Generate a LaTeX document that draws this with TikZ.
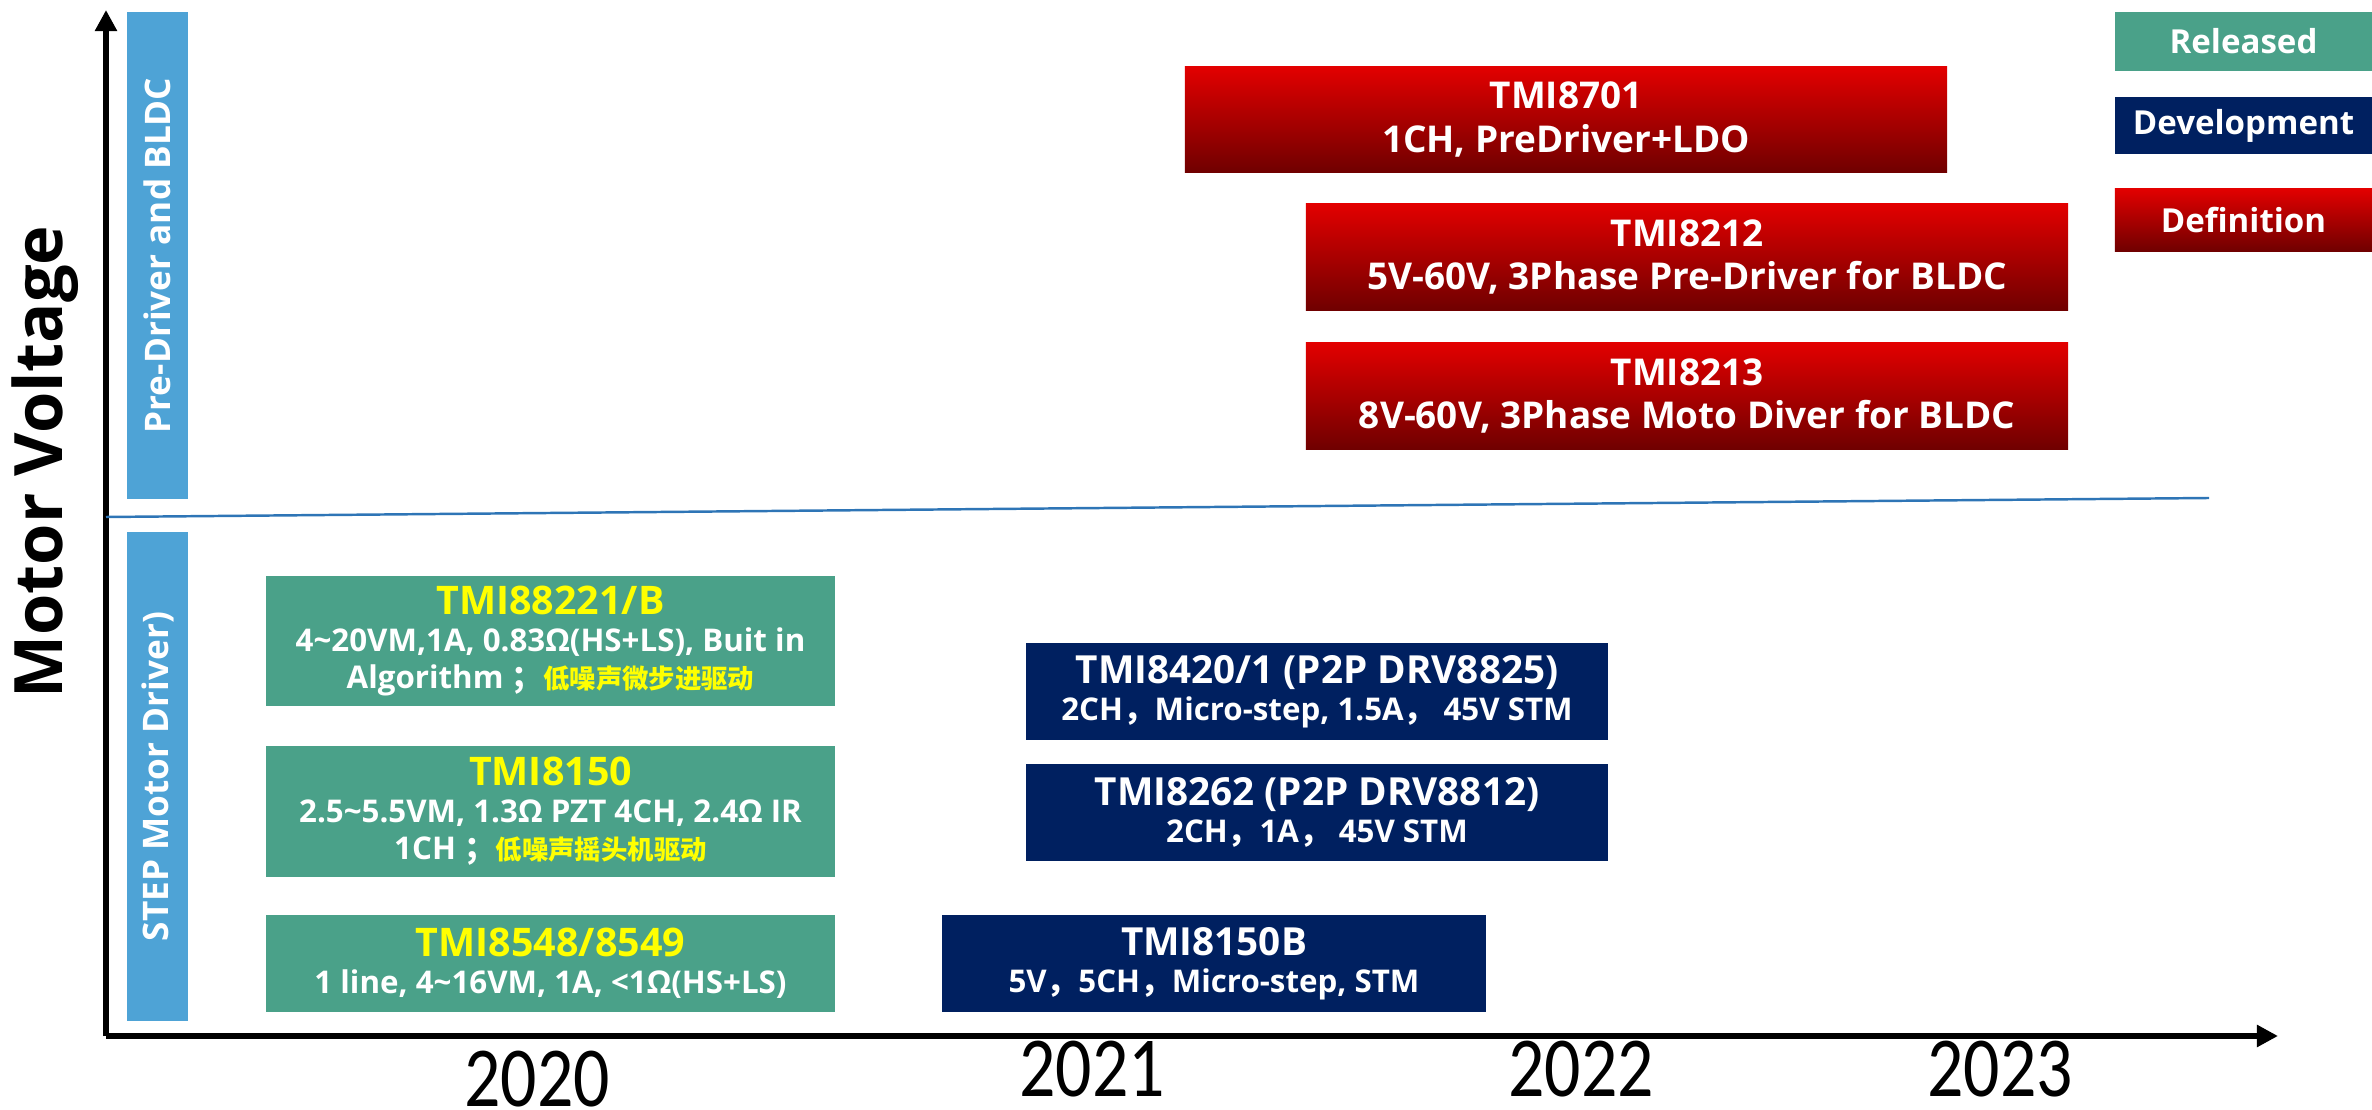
\documentclass[tikz,border=0pt]{standalone}
\usepackage{fontspec}
\usepackage{graphicx}
\setmainfont{Open Sans}
\newfontfamily\cjk{Noto Sans CJK SC}
\newfontfamily\yearfont{Carlito}
\usetikzlibrary{arrows.meta}
\definecolor{relgreen}{RGB}{74,161,137}
\definecolor{devnavy}{RGB}{0,32,96}
\definecolor{sidebl}{RGB}{78,163,214}
\definecolor{defred}{RGB}{226,0,0}
\definecolor{defdark}{RGB}{112,0,0}
\definecolor{divline}{RGB}{46,117,182}
\definecolor{ttlyellow}{RGB}{255,255,0}
\newcommand\tld{\textasciitilde}
\newcommand\zh[1]{{\cjk\bfseries\fontsize{7.5}{10.5}\selectfont #1}}
\newcommand\zp[1]{{\cjk\bfseries\fontsize{9}{10.5}\selectfont #1}}
\newcommand\yzh[1]{{\color{ttlyellow}\zh{#1}}}
\newcommand\ttl[1]{{\fontsize{11}{10.5}\selectfont #1}}
\newcommand\yttl[1]{{\color{ttlyellow}\fontsize{11.2}{10.5}\selectfont #1}}
\tikzset{
  prodbox/.style={inner sep=0pt, align=center, text=white, font=\bfseries\fontsize{8.9}{10.5}\selectfont},
  relbox/.style={prodbox, fill=relgreen},
  devbox/.style={prodbox, fill=devnavy},
  defbox/.style={prodbox, top color=defred, bottom color=defdark, font=\bfseries\fontsize{10.5}{12.5}\selectfont},
  legbox/.style={inner sep=0pt, text=white, font=\bfseries\fontsize{9.4}{11}\selectfont, minimum width=2.57cm},
  sidebar/.style={inner sep=0pt, fill=sidebl, text=white, rotate=90, font=\bfseries\fontsize{10}{12}\selectfont, minimum height=0.61cm},
  axisline/.style={line width=1.5pt, -{Triangle[length=6pt, width=6pt]}},
  yr/.style={inner sep=0pt, font=\yearfont\fontsize{24.3}{28}\selectfont},
}
\begin{document}
\begin{tikzpicture}[x=0.01cm, y=-0.01cm]
\useasboundingbox (0,0) rectangle (2372,1110);
% axes
\coordinate (O) at (106,1036);
\coordinate (YT) at (106,10);
\coordinate (XT) at (2278,1036);
\coordinate (DL) at (106,517);
\coordinate (DR) at (2209,498);
\draw[axisline] (O) -- (YT);
\draw[axisline] (O) -- (XT);
\draw[divline, line width=0.7pt] (DL) -- (DR);
% axis title
\node[inner sep=0pt, rotate=90, font=\bfseries\fontsize{19}{22}\selectfont] (mv) at (45,462) {Motor Voltage};
% side bars
\node[sidebar, minimum width=4.87cm] (sb1) at (157.5,255.5) {Pre-Driver and BLDC};
\node[sidebar, minimum width=4.89cm] (sb2) at (157.5,776.5) {STEP Motor Driver)};
% legend
\node[legbox, fill=relgreen, minimum height=0.59cm] (lrel) at (2243.5,41.5) {Released};
\node[legbox, fill=devnavy, minimum height=0.57cm] (ldev) at (2243.5,125.5) {Development};
\node[legbox, top color=defred, bottom color=defdark, minimum height=0.62cm] (ldef) at (2243.5,220) {Definition};
% released
\node[relbox, minimum width=5.69cm, minimum height=1.30cm] (g1) at (550.5,641)
  {\yttl{TMI88221/B}\\ 4\tld20VM,1A, 0.83Ω(HS+LS), Buit in\\ Algorithm \zp{；}\yzh{低噪声微步进驱动}};
\node[relbox, minimum width=5.69cm, minimum height=1.31cm] (g2) at (550.5,811.5)
  {\yttl{TMI8150}\\ 2.5\tld5.5VM, 1.3Ω PZT 4CH, 2.4Ω IR\\ 1CH \zp{；}\yzh{低噪声摇头机驱动}};
\node[relbox, minimum width=5.69cm, minimum height=0.97cm] (g3) at (550.5,963.5)
  {\yttl{TMI8548/8549}\\ 1 line, 4\tld16VM, 1A, <1Ω(HS+LS)};
% development
\node[devbox, minimum width=5.82cm, minimum height=0.97cm] (n1) at (1317,691.5)
  {\ttl{TMI8420/1 (P2P DRV8825)}\\ 2CH\zp{，}Micro-step, 1.5A\zp{，}\ 45V STM};
\node[devbox, minimum width=5.82cm, minimum height=0.97cm] (n2) at (1317,812.5)
  {\ttl{TMI8262 (P2P DRV8812)}\\ 2CH\zp{，}1A\zp{，}\ 45V STM};
\node[devbox, minimum width=5.44cm, minimum height=0.97cm] (n3) at (1214,963.5)
  {\ttl{TMI8150B}\\ 5V\zp{，}5CH\zp{，}Micro-step, STM};
% definition
\node[defbox, minimum width=7.62cm, minimum height=1.05cm] (r1) at (1566,119.5)
  {TMI8701\\ 1CH, PreDriver+LDO};
\node[defbox, minimum width=7.62cm, minimum height=1.06cm] (r2) at (1687,257)
  {TMI8212\\ 5V-60V, 3Phase Pre-Driver for BLDC};
\node[defbox, minimum width=7.62cm, minimum height=1.06cm] (r3) at (1687,396)
  {TMI8213\\ 8V-60V, 3Phase Moto Diver for BLDC};
% years
\node[yr] (y2020) at (537,1079) {\scalebox{0.84}[1]{2020}};
\node[yr] (y2021) at (1092,1069) {\scalebox{0.84}[1]{2021}};
\node[yr] (y2022) at (1581,1069) {\scalebox{0.84}[1]{2022}};
\node[yr] (y2023) at (2000,1069) {\scalebox{0.84}[1]{2023}};
\end{tikzpicture}
\end{document}
